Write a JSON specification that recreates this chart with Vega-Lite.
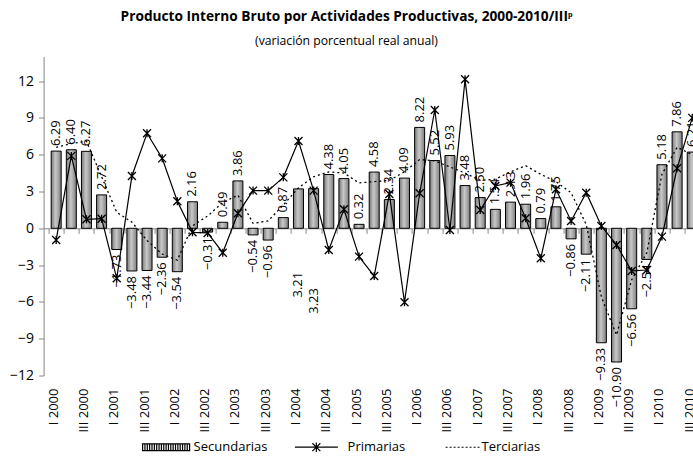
{
  "$schema": "https://vega.github.io/schema/vega-lite/v6.json",
  "autosize": {"type": "none"},
  "width": 649.4,
  "height": 319,
  "padding": {"left": 43.6, "top": 56.5, "right": 0, "bottom": 80.5},
  "config": {
    "font": "Open Sans",
    "view": {"stroke": null},
    "axis": {"grid": false}
  },
  "title": {
    "text": "Producto Interno Bruto por Actividades Productivas, 2000-2010/IIIᵖ",
    "subtitle": "(variación porcentual real anual)",
    "anchor": "middle",
    "dx": -21.8,
    "offset": 9,
    "font": "Open Sans",
    "fontSize": 13.7,
    "fontWeight": "bold",
    "color": "#000000",
    "subtitleFont": "Open Sans",
    "subtitleFontSize": 12.2,
    "subtitleColor": "#000000",
    "subtitlePadding": 12
  },
  "data": {
    "values": [
      {"q": 1, "periodo": "I 2000", "Secundarias": 6.29, "Primarias": -0.95, "Terciarias": 6.6},
      {"q": 2, "periodo": "II 2000", "Secundarias": 6.40, "Primarias": 5.9, "Terciarias": 6.9},
      {"q": 3, "periodo": "III 2000", "Secundarias": 6.27, "Primarias": 0.73, "Terciarias": 7.1},
      {"q": 4, "periodo": "IV 2000", "Secundarias": 2.72, "Primarias": 0.78, "Terciarias": 4.2},
      {"q": 5, "periodo": "I 2001", "Secundarias": -1.73, "Primarias": -4.08, "Terciarias": 1.3},
      {"q": 6, "periodo": "II 2001", "Secundarias": -3.48, "Primarias": 4.26, "Terciarias": 0.5},
      {"q": 7, "periodo": "III 2001", "Secundarias": -3.44, "Primarias": 7.74, "Terciarias": -1.0},
      {"q": 8, "periodo": "IV 2001", "Secundarias": -2.36, "Primarias": 5.70, "Terciarias": -2.1},
      {"q": 9, "periodo": "I 2002", "Secundarias": -3.54, "Primarias": 2.2, "Terciarias": -2.6},
      {"q": 10, "periodo": "II 2002", "Secundarias": 2.16, "Primarias": -0.33, "Terciarias": 0.2},
      {"q": 11, "periodo": "III 2002", "Secundarias": -0.31, "Primarias": -0.38, "Terciarias": 1.0},
      {"q": 12, "periodo": "IV 2002", "Secundarias": 0.49, "Primarias": -1.99, "Terciarias": 2.1},
      {"q": 13, "periodo": "I 2003", "Secundarias": 3.86, "Primarias": 1.22, "Terciarias": 2.7},
      {"q": 14, "periodo": "II 2003", "Secundarias": -0.54, "Primarias": 3.07, "Terciarias": 0.4},
      {"q": 15, "periodo": "III 2003", "Secundarias": -0.96, "Primarias": 3.07, "Terciarias": 0.6},
      {"q": 16, "periodo": "IV 2003", "Secundarias": 0.87, "Primarias": 4.15, "Terciarias": 1.9},
      {"q": 17, "periodo": "I 2004", "Secundarias": 3.21, "Primarias": 7.11, "Terciarias": 3.3},
      {"q": 18, "periodo": "II 2004", "Secundarias": 3.23, "Primarias": 3.07, "Terciarias": 4.2},
      {"q": 19, "periodo": "III 2004", "Secundarias": 4.38, "Primarias": -1.77, "Terciarias": 4.6},
      {"q": 20, "periodo": "IV 2004", "Secundarias": 4.05, "Primarias": 1.55, "Terciarias": 4.5},
      {"q": 21, "periodo": "I 2005", "Secundarias": 0.32, "Primarias": -2.31, "Terciarias": 3.7},
      {"q": 22, "periodo": "II 2005", "Secundarias": 4.58, "Primarias": -3.89, "Terciarias": 3.8},
      {"q": 23, "periodo": "III 2005", "Secundarias": 2.34, "Primarias": 2.80, "Terciarias": 3.9},
      {"q": 24, "periodo": "IV 2005", "Secundarias": 4.09, "Primarias": -6.03, "Terciarias": 4.6},
      {"q": 25, "periodo": "I 2006", "Secundarias": 8.22, "Primarias": 2.85, "Terciarias": 5.6},
      {"q": 26, "periodo": "II 2006", "Secundarias": 5.52, "Primarias": 9.64, "Terciarias": 5.5},
      {"q": 27, "periodo": "III 2006", "Secundarias": 5.93, "Primarias": -0.14, "Terciarias": 5.0},
      {"q": 28, "periodo": "IV 2006", "Secundarias": 3.48, "Primarias": 12.14, "Terciarias": 4.5},
      {"q": 29, "periodo": "I 2007", "Secundarias": 2.50, "Primarias": 1.49, "Terciarias": 3.9},
      {"q": 30, "periodo": "II 2007", "Secundarias": 1.54, "Primarias": 3.45, "Terciarias": 4.0},
      {"q": 31, "periodo": "III 2007", "Secundarias": 2.13, "Primarias": 3.72, "Terciarias": 4.6},
      {"q": 32, "periodo": "IV 2007", "Secundarias": 1.96, "Primarias": 0.81, "Terciarias": 5.1},
      {"q": 33, "periodo": "I 2008", "Secundarias": 0.79, "Primarias": -2.45, "Terciarias": 4.4},
      {"q": 34, "periodo": "II 2008", "Secundarias": 1.75, "Primarias": 3.18, "Terciarias": 3.8},
      {"q": 35, "periodo": "III 2008", "Secundarias": -0.86, "Primarias": 0.59, "Terciarias": 2.9},
      {"q": 36, "periodo": "IV 2008", "Secundarias": -2.11, "Primarias": 2.90, "Terciarias": 0.3},
      {"q": 37, "periodo": "I 2009", "Secundarias": -9.33, "Primarias": 0.19, "Terciarias": -5.6},
      {"q": 38, "periodo": "II 2009", "Secundarias": -10.90, "Primarias": -1.36, "Terciarias": -8.7},
      {"q": 39, "periodo": "III 2009", "Secundarias": -6.56, "Primarias": -3.48, "Terciarias": -4.2},
      {"q": 40, "periodo": "IV 2009", "Secundarias": -2.54, "Primarias": -3.40, "Terciarias": -2.0},
      {"q": 41, "periodo": "I 2010", "Secundarias": 5.18, "Primarias": -0.68, "Terciarias": 4.4},
      {"q": 42, "periodo": "II 2010", "Secundarias": 7.86, "Primarias": 4.89, "Terciarias": 6.6},
      {"q": 43, "periodo": "III 2010", "Secundarias": 6.21, "Primarias": 9.0, "Terciarias": 6.0}
    ]
  },
  "resolve": {"axis": {"x": "independent", "y": "independent"}},
  "layer": [
    {
      "mark": {
        "type": "bar",
        "size": 10,
        "stroke": "#000000",
        "strokeWidth": 1,
        "fill": {
          "gradient": "linear",
          "x1": 0, "x2": 1, "y1": 0, "y2": 0,
          "stops": [
            {"offset": 0, "color": "#7a7a7a"},
            {"offset": 0.45, "color": "#c8c8c8"},
            {"offset": 1, "color": "#7e7e7e"}
          ]
        }
      },
      "encoding": {
        "x": {
          "field": "q",
          "type": "quantitative",
          "scale": {"domain": [0.5, 42.72], "nice": false, "zero": false},
          "axis": {
            "orient": "bottom",
            "title": null,
            "domain": false,
            "ticks": false,
            "tickSize": 0,
            "grid": false,
            "values": [1, 3, 5, 7, 9, 11, 13, 15, 17, 19, 21, 23, 25, 27, 29, 31, 33, 35, 37, 39, 41, 43],
            "labelExpr": "((datum.value - 1) % 4 == 0 ? 'I ' : 'III ') + (2000 + floor((datum.value - 1) / 4))",
            "labelAngle": 270,
            "labelPadding": 12.5,
            "labelOffset": -3,
            "labelFont": "Open Sans",
            "labelFontSize": 13,
            "labelColor": "#000000",
            "labelOverlap": false,
            "labelBound": false,
            "labelFlush": false
          }
        },
        "y": {
          "field": "Secundarias",
          "type": "quantitative",
          "scale": {"domain": [-12, 14], "nice": false},
          "axis": {
            "title": null,
            "values": [-12, -9, -6, -3, 0, 3, 6, 9, 12],
            "domainColor": "#868686",
            "domainWidth": 1,
            "tickColor": "#868686",
            "tickSize": 5,
            "labelPadding": 5,
            "labelFont": "Open Sans",
            "labelFontSize": 14,
            "labelColor": "#000000",
            "grid": false
          }
        }
      }
    },
    {
      "mark": {"type": "line", "stroke": "#000000", "strokeWidth": 1.3, "strokeDash": [2, 3]},
      "encoding": {
        "x": {"field": "q", "type": "quantitative", "axis": null},
        "y": {"field": "Terciarias", "type": "quantitative", "axis": null}
      }
    },
    {
      "mark": {"type": "line", "stroke": "#000000", "strokeWidth": 1.2},
      "encoding": {
        "x": {
          "field": "q",
          "type": "quantitative",
          "axis": {
            "orient": "bottom",
            "offset": -147.2,
            "title": null,
            "labels": false,
            "grid": false,
            "domainColor": "#868686",
            "domainWidth": 1,
            "tickColor": "#868686",
            "tickSize": 5,
            "values": [0.5, 1.5, 2.5, 3.5, 4.5, 5.5, 6.5, 7.5, 8.5, 9.5, 10.5, 11.5, 12.5, 13.5, 14.5, 15.5, 16.5, 17.5, 18.5, 19.5, 20.5, 21.5, 22.5, 23.5, 24.5, 25.5, 26.5, 27.5, 28.5, 29.5, 30.5, 31.5, 32.5, 33.5, 34.5, 35.5, 36.5, 37.5, 38.5, 39.5, 40.5, 41.5, 42.5]
          }
        },
        "y": {"field": "Primarias", "type": "quantitative", "axis": null}
      }
    },
    {
      "mark": {"type": "point", "shape": "M-1,-1L1,1M1,-1L-1,1M0,-1L0,1", "size": 64, "filled": false, "stroke": "#000000", "strokeWidth": 1.3, "opacity": 1},
      "encoding": {
        "x": {"field": "q", "type": "quantitative", "axis": null},
        "y": {"field": "Primarias", "type": "quantitative", "axis": null}
      }
    },
    {
      "transform": [{"filter": "datum.Secundarias >= 0 && datum.q != 17 && datum.q != 18"}],
      "mark": {"type": "text", "angle": 270, "align": "left", "baseline": "middle", "dx": 5, "fontSize": 13, "font": "Open Sans", "color": "#000000"},
      "encoding": {
        "x": {"field": "q", "type": "quantitative", "axis": null},
        "y": {"field": "Secundarias", "type": "quantitative", "axis": null},
        "text": {"field": "Secundarias", "type": "quantitative", "format": ".2f"}
      }
    },
    {
      "transform": [{"filter": "datum.Secundarias < 0"}],
      "mark": {"type": "text", "angle": 270, "align": "right", "baseline": "middle", "dx": -5, "fontSize": 13, "font": "Open Sans", "color": "#000000"},
      "encoding": {
        "x": {"field": "q", "type": "quantitative", "axis": null},
        "y": {"field": "Secundarias", "type": "quantitative", "axis": null},
        "text": {"field": "Secundarias", "type": "quantitative", "format": ".2f"}
      }
    },
    {
      "transform": [
        {"filter": "datum.q == 17 || datum.q == 18"},
        {"calculate": "datum.q == 17 ? -3.55 : -4.87", "as": "posEtiqueta"}
      ],
      "mark": {"type": "text", "angle": 270, "align": "right", "baseline": "middle", "fontSize": 13, "font": "Open Sans", "color": "#000000"},
      "encoding": {
        "x": {"field": "q", "type": "quantitative", "axis": null},
        "y": {"field": "posEtiqueta", "type": "quantitative", "axis": null},
        "text": {"field": "Secundarias", "type": "quantitative", "format": ".2f"}
      }
    },
    {
      "mark": {"type": "point", "opacity": 0},
      "encoding": {
        "x": {"field": "q", "type": "quantitative", "axis": null},
        "y": {"field": "Primarias", "type": "quantitative", "axis": null},
        "shape": {
          "datum": "Secundarias",
          "type": "nominal",
          "scale": {
            "domain": ["Secundarias", "Primarias", "Terciarias"],
            "range": [
              "M-1,-0.14H1V0.14H-1ZM-0.9,-0.14V0.14M-0.8,-0.14V0.14M-0.7,-0.14V0.14M-0.6,-0.14V0.14M-0.5,-0.14V0.14M-0.4,-0.14V0.14M-0.3,-0.14V0.14M-0.2,-0.14V0.14M-0.1,-0.14V0.14M0,-0.14V0.14M0.1,-0.14V0.14M0.2,-0.14V0.14M0.3,-0.14V0.14M0.4,-0.14V0.14M0.5,-0.14V0.14M0.6,-0.14V0.14M0.7,-0.14V0.14M0.8,-0.14V0.14M0.9,-0.14V0.14",
              "M-1.073,0H0.757M-0.33,-0.17L0.01,0.17M0.01,-0.17L-0.33,0.17M-0.16,-0.2V0.2",
              "M-0.362,0H-0.277M-0.192,0H-0.107M-0.022,0H0.063M0.148,0H0.233M0.318,0H0.403M0.488,0H0.573M0.658,0H0.743M0.828,0H0.913M0.998,0H1.083"
            ]
          },
          "legend": {
            "orient": "none",
            "legendX": 98,
            "legendY": 366,
            "direction": "horizontal",
            "title": null,
            "padding": 0,
            "symbolSize": 2209,
            "symbolStrokeWidth": 1.2,
            "symbolStrokeColor": "#000000",
            "symbolOpacity": 1,
            "labelFont": "Open Sans",
            "labelFontSize": 13,
            "labelColor": "#000000",
            "labelOffset": 3,
            "columnPadding": 24
          }
        }
      }
    }
  ]
}
